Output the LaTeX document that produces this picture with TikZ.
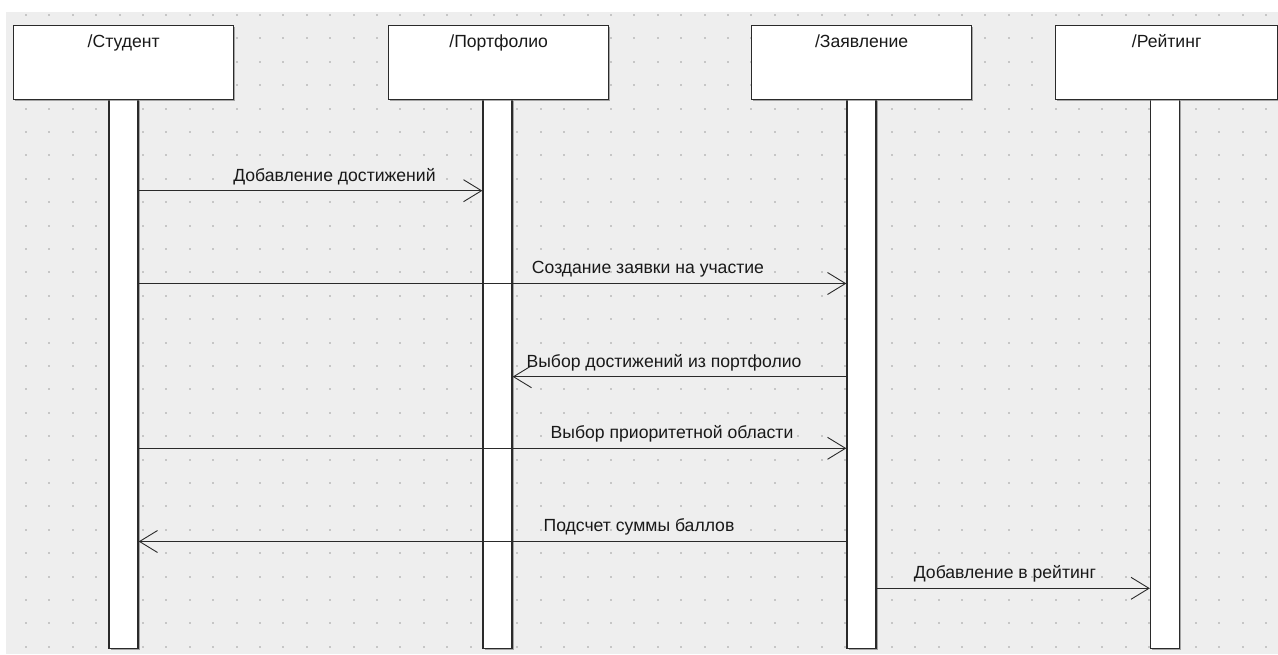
\documentclass[tikz,border=0pt]{standalone}
\usepackage{fontspec}
\setmainfont{Liberation Sans}
\usetikzlibrary{arrows.meta,shadows}
\definecolor{canvas}{HTML}{EEEEEE}
\definecolor{gridDot}{HTML}{C6C6C6}
\definecolor{ink}{HTML}{2A2A2A}

\begin{document}
\begin{tikzpicture}[x=1pt,y=-1pt,
  txt/.style={font=\fontsize{17.6}{20}\selectfont, text=black!90, inner sep=0pt, anchor=base},
  objbox/.style={draw=ink, line width=1.3pt, fill=white, minimum width=220pt,
    minimum height=74pt, inner sep=0pt, anchor=north west,
    drop shadow={shadow xshift=1.5pt, shadow yshift=-1.5pt, fill=black!55, opacity=0.6}},
  life/.style={draw=ink, line width=1.3pt, fill=white, minimum width=29pt,
    minimum height=549pt, inner sep=0pt, anchor=north,
    drop shadow={shadow xshift=1.5pt, shadow yshift=-1.5pt, fill=black!55, opacity=0.6}},
  msg/.style={draw=ink, line width=0.9pt,
    -{Straight Barb[length=18pt, width=22pt, line width=0.9pt]}}
]
\useasboundingbox (0,0) rectangle (1278,654);
\fill[white] (0,0) rectangle (1278,654);
\fill[canvas] (6,12) rectangle (1278,654);

% dotted grid
\foreach \i in {0,...,53}
  \foreach \j in {0,...,27}
    \fill[gridDot] ({26+23.4*\i-1},{15+23.4*\j-1}) rectangle ++(2,2);

% lifelines
\node[life] (stL) at (123.5,99) {};
\node[life] (pfL) at (497.5,99) {};
\node[life] (zvL) at (861.5,99) {};
\node[life] (rtL) at (1165,99) {};

% object boxes
\node[objbox] (st) at (13,25) {};
\node[objbox] (pf) at (388,25) {};
\node[objbox] (zv) at (751,25) {};
\node[objbox, minimum width=222pt] (rt) at (1055,25) {};

\node[txt] (stT) at (st.north |- 0,47) {/Студент};
\node[txt] (pfT) at (pf.north |- 0,47) {/Портфолио};
\node[txt] (zvT) at (zv.north |- 0,47) {/Заявление};
\node[txt] (rtT) at (rt.north |- 0,47) {/Рейтинг};

% messages
\draw[msg] (stL.east |- 0,190.7) -- (pfL.west |- 0,190.7);
\node[txt] (m1) at (334.5,181) {Добавление достижений};

\draw[msg] (stL.east |- 0,283.5) -- (zvL.west |- 0,283.5);
\node[txt] (m2) at (648,273.5) {Создание заявки на участие};

\draw[msg] (zvL.west |- 0,376.7) -- (pfL.east |- 0,376.7);
\node[txt] (m3) at (664,367) {Выбор достижений из портфолио};

\draw[msg] (stL.east |- 0,448.3) -- (zvL.west |- 0,448.3);
\node[txt] (m4) at (672,438.5) {Выбор приоритетной области};

\draw[msg] (zvL.west |- 0,541.5) -- (stL.east |- 0,541.5);
\node[txt] (m5) at (639,531.5) {Подсчет суммы баллов};

\draw[msg] (zvL.east |- 0,588.3) -- (rtL.west |- 0,588.3);
\node[txt] (m6) at (1005,578.5) {Добавление в рейтинг};
\end{tikzpicture}
\end{document}
